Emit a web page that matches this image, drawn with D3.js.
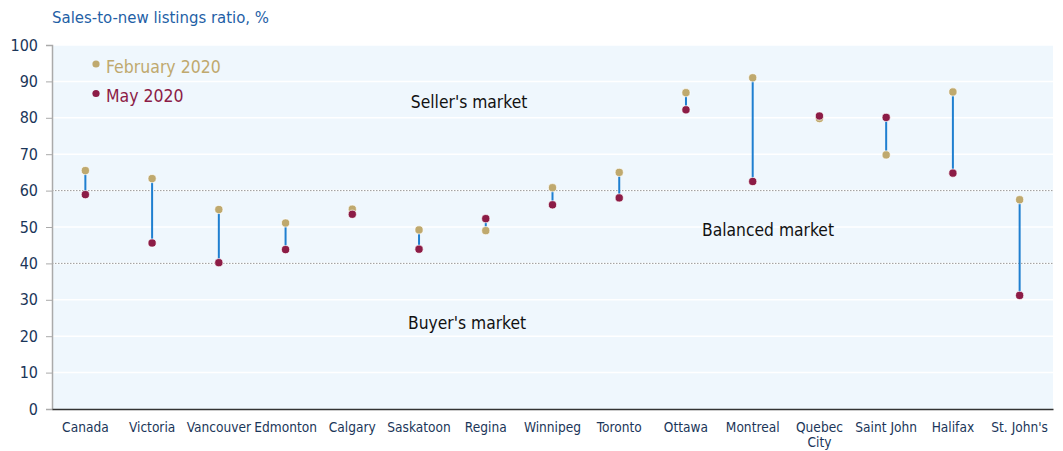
<!DOCTYPE html>
<html>
<head>
<meta charset="utf-8">
<script src="https://cdn.jsdelivr.net/npm/d3@7"></script>
<style>
  body { margin: 0; background: #fff; }
  text { font-family: "DejaVu Sans", sans-serif; font-stretch: condensed; }
</style>
</head>
<body>
<div id="chart"></div>
<script>
// Data
const cities = ['Canada', 'Victoria', 'Vancouver', 'Edmonton', 'Calgary', 'Saskatoon', 'Regina',
    'Winnipeg', 'Toronto', 'Ottawa', 'Montreal', 'Quebec City', 'Saint John', 'Halifax', "St. John's"];
const feb2020 = [65.5, 63.3, 54.8, 51.1, 54.9, 49.2, 49.0, 60.8, 65.0, 86.9, 91.0, 79.8, 69.8, 87.1, 57.5];
const may2020 = [58.9, 45.6, 40.2, 43.8, 53.5, 43.9, 52.3, 56.1, 58.0, 82.2, 62.5, 80.5, 80.1, 64.8, 31.2];
const yTicks = [0, 10, 20, 30, 40, 50, 60, 70, 80, 90, 100];
const thresholds = [40, 60];
const zones = [
    { label: "Seller's market", at: 'Regina', shift: -0.25, value: 82.7 },
    { label: 'Balanced market', at: 'Montreal', shift: 0.23, value: 47.5 },
    { label: "Buyer's market", at: 'Regina', shift: -0.28, value: 22 }
];

class RatioPlot {
    constructor() {
        this.margin = { top: 45, right: 10, bottom: 42, left: 52 };
        this.width = 1063 - this.margin.left - this.margin.right;
        this.height = 451 - this.margin.top - this.margin.bottom;
        this.drawPlot();
    }

    drawPlot() {
        const svg = d3.select('#chart').append('svg')
            .attr('width', 1063)
            .attr('height', 451);

        const g = svg.append('g')
            .attr('transform', 'translate(' + this.margin.left + ',' + this.margin.top + ')');

        const x = d3.scaleBand().domain(cities).range([0, this.width]);
        const y = d3.scaleLinear().domain([0, 100]).range([this.height, 0]);

        // background + gridlines
        g.append('rect')
            .attr('width', this.width)
            .attr('height', this.height)
            .attr('fill', '#eff7fd');

        g.selectAll('.grid').data(yTicks.filter(t => t > 0)).join('line')
            .attr('x1', 0).attr('x2', this.width)
            .attr('y1', d => y(d)).attr('y2', d => y(d))
            .attr('stroke', '#ffffff').attr('stroke-width', 1.5);

        g.selectAll('.thresh').data(thresholds).join('line')
            .attr('x1', 0).attr('x2', this.width)
            .attr('y1', d => y(d)).attr('y2', d => y(d))
            .attr('stroke', '#9a9a9a').attr('stroke-width', 1)
            .attr('stroke-dasharray', '1.5,1.5');

        // y axis
        const yAxis = g.append('g')
            .call(d3.axisLeft(y).tickValues(yTicks).tickSize(6).tickPadding(8));
        yAxis.select('.domain').attr('stroke', '#aaaaaa').attr('stroke-width', 1.5);
        yAxis.selectAll('.tick line').attr('stroke', '#aaaaaa');
        yAxis.selectAll('.tick text')
            .attr('fill', '#1b3659')
            .style('font-size', '16px');

        // x axis
        const xAxis = g.append('g')
            .attr('transform', 'translate(0,' + this.height + ')')
            .call(d3.axisBottom(x).tickSize(0).tickPadding(13));
        xAxis.select('.domain').attr('stroke', '#333333').attr('stroke-width', 1.5);
        xAxis.selectAll('.tick text')
            .attr('fill', '#1b3659')
            .style('font-size', '13.6px')
            .each(function (d) {
                if (d === 'Quebec City') {
                    const t = d3.select(this);
                    t.text(null);
                    t.append('tspan').attr('x', 0).text('Quebec');
                    t.append('tspan').attr('x', 0).attr('dy', '1.1em').text('City');
                }
            });

        // connectors
        const cx = d => x(d) + x.bandwidth() / 2;
        g.selectAll('.conn').data(cities).join('line')
            .attr('x1', d => cx(d)).attr('x2', d => cx(d))
            .attr('y1', (d, i) => y(feb2020[i])).attr('y2', (d, i) => y(may2020[i]))
            .attr('stroke', '#1f7fd0').attr('stroke-width', 2);

        // dots
        g.selectAll('.feb').data(cities).join('circle')
            .attr('cx', d => cx(d)).attr('cy', (d, i) => y(feb2020[i]))
            .attr('r', 4.1).attr('fill', '#bfa96e')
            .attr('stroke', '#ffffff').attr('stroke-width', 0.7);
        g.selectAll('.may').data(cities).join('circle')
            .attr('cx', d => cx(d)).attr('cy', (d, i) => y(may2020[i]))
            .attr('r', 4.1).attr('fill', '#8c1c46')
            .attr('stroke', '#ffffff').attr('stroke-width', 0.7);

        // zone labels
        g.selectAll('.zone').data(zones).join('text')
            .attr('x', d => x(d.at) + x.bandwidth() * (0.5 + d.shift))
            .attr('y', d => y(d.value))
            .attr('text-anchor', 'middle')
            .attr('fill', '#111111')
            .style('font-size', '17.3px')
            .text(d => d.label);

        // legend
        const legend = g.append('g').attr('transform', 'translate(44,19)');
        const items = [{ name: 'February 2020', color: '#bfa96e' }, { name: 'May 2020', color: '#8c1c46' }];
        items.forEach((it, i) => {
            legend.append('circle').attr('cx', 0).attr('cy', i * 29.5).attr('r', 3.6).attr('fill', it.color);
            legend.append('text').attr('x', 10).attr('y', i * 29.5 + 8.5)
                .attr('fill', it.color)
                .style('font-size', '17.5px')
                .text(it.name);
        });

        // title
        svg.append('text')
            .attr('x', this.margin.left)
            .attr('y', 23)
            .attr('fill', '#1f5fa6')
            .style('font-size', '16.6px')
            .text('Sales-to-new listings ratio, %');
    }
}

new RatioPlot();
</script>
</body>
</html>
